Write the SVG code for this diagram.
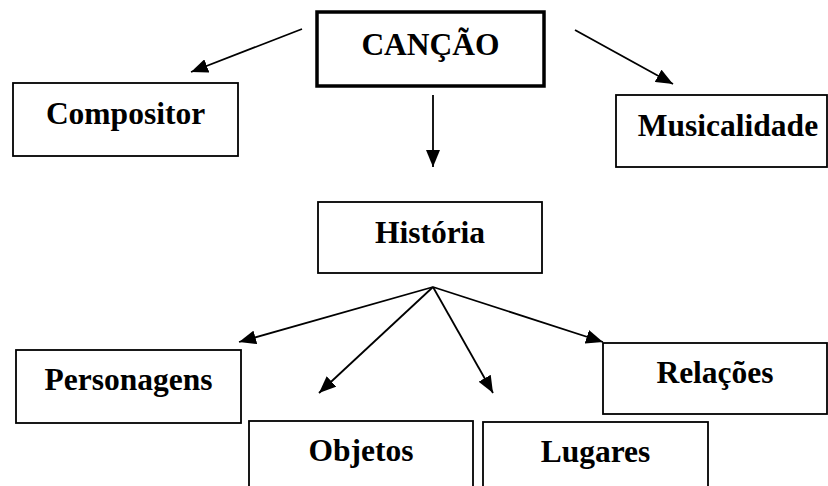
<svg xmlns="http://www.w3.org/2000/svg" width="828" height="486" viewBox="0 0 828 486">
<style>
.box{fill:#fff;stroke:#000;stroke-width:1.8}
.thick{fill:#fff;stroke:#000;stroke-width:3.5}
.lbl{font-family:"Liberation Serif","Times New Roman",serif;font-weight:bold;font-size:31.5px;text-anchor:middle;fill:#000}
.conn{stroke:#000;stroke-width:1.8;fill:none;marker-end:url(#ah)}
</style>
<defs>
<marker id="ah" markerUnits="userSpaceOnUse" markerWidth="18" markerHeight="14" refX="17" refY="7" orient="auto">
<path d="M0,0 L17,7 L0,14 z" fill="#000"/>
</marker>
</defs>
<rect width="828" height="486" fill="#fff"/>
<g id="connectors">
<line class="conn" x1="302" y1="29" x2="191" y2="72"/>
<line class="conn" x1="575" y1="30" x2="673" y2="84"/>
<line class="conn" x1="433" y1="95" x2="433" y2="167"/>
<line class="conn" x1="433" y1="287" x2="239" y2="342"/>
<line class="conn" x1="433" y1="287" x2="319" y2="393"/>
<line class="conn" x1="433" y1="287" x2="493" y2="393"/>
<line class="conn" x1="433" y1="287" x2="603" y2="342"/>
</g>
<g id="cancao">
<rect class="thick" x="317" y="12" width="227" height="74"/>
<text class="lbl" x="430.5" y="55">CANÇÃO</text>
</g>
<g id="compositor">
<rect class="box" x="13" y="83" width="225" height="73"/>
<text class="lbl" x="125.5" y="124">Compositor</text>
</g>
<g id="musicalidade">
<rect class="box" x="616" y="95" width="211" height="72"/>
<text class="lbl" x="728" y="136">Musicalidade</text>
</g>
<g id="historia">
<rect class="box" x="318" y="202" width="224" height="71"/>
<text class="lbl" x="430" y="243">História</text>
</g>
<g id="personagens">
<rect class="box" x="16" y="350" width="225" height="73"/>
<text class="lbl" x="128.5" y="390">Personagens</text>
</g>
<g id="relacoes">
<rect class="box" x="603" y="343" width="224" height="71"/>
<text class="lbl" x="715" y="383">Relações</text>
</g>
<g id="objetos">
<rect class="box" x="249" y="421" width="224" height="80"/>
<text class="lbl" x="361" y="461">Objetos</text>
</g>
<g id="lugares">
<rect class="box" x="483" y="422" width="225" height="80"/>
<text class="lbl" x="595.5" y="462">Lugares</text>
</g>
</svg>
